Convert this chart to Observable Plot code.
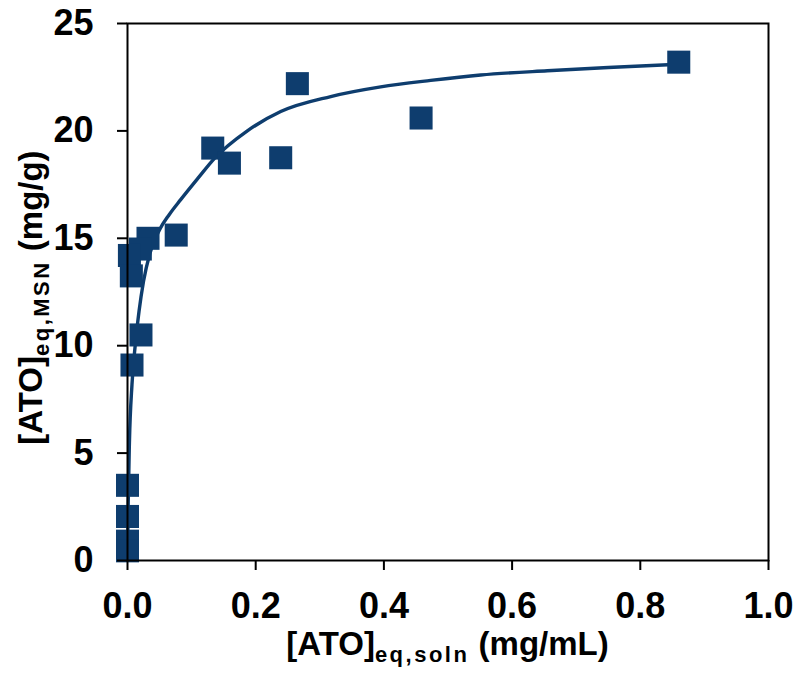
<!DOCTYPE html>
<html>
<head>
<meta charset="utf-8">
<script src="https://cdn.jsdelivr.net/npm/d3@7"></script>
<script src="https://cdn.jsdelivr.net/npm/@observablehq/plot@0.6"></script>
<style>
  html, body { margin: 0; padding: 0; background: #fff; }
</style>
</head>
<body>
<div id="chart"></div>
<script>
// Measured points
const pointX = [0.86, 0.265, 0.458, 0.133, 0.159, 0.239, 0.076, 0.032, 0.02, 0.003, 0.006, 0.021, 0.007, 0.0, 0.0, 0.0, 0.0];
const pointY = [23.2, 22.2, 20.6, 19.2, 18.5, 18.75, 15.15, 15.0, 14.5, 14.2, 13.25, 10.5, 9.1, 3.5, 2.05, 0.9, 0.45];

// Fitted curve
const curveX = [0, 0.001, 0.003, 0.007, 0.012, 0.018, 0.025, 0.035, 0.05, 0.065, 0.083, 0.11, 0.135, 0.187, 0.239, 0.317, 0.395, 0.473, 0.551, 0.655, 0.75, 0.86];
const curveY = [0, 2.5, 5.5, 8.2, 10.0, 11.6, 13.0, 14.3, 15.4, 16.1, 16.8, 17.8, 18.7, 20.0, 20.9, 21.6, 22.05, 22.35, 22.6, 22.8, 22.95, 23.1];

const xTicks = [0, 0.2, 0.4, 0.6, 0.8, 1.0];
const yTicks = [0, 5, 10, 15, 20, 25];

const points = pointX.map((x, i) => ({x, y: pointY[i]}));
const curve = curveX.map((x, i) => ({x, y: curveY[i]}));

const navy = "#0e3d6e";
const font = "'Liberation Sans', Arial, sans-serif";

const chart = Plot.plot({
  width: 800,
  height: 676,
  marginLeft: 127,
  marginRight: 32,
  marginTop: 23,
  marginBottom: 116,
  style: {fontFamily: font, fontSize: "36px", fontWeight: "bold", color: "#000", background: "#fff"},
  x: {domain: [0, 1]},
  y: {domain: [0, 25]},
  marks: [
    Plot.line(curve, {x: "x", y: "y", stroke: navy, strokeWidth: 3.4, curve: "monotone-x"}),
    Plot.dot(points, {x: "x", y: "y", symbol: "square", r: 13, fill: navy, stroke: "none"}),
    Plot.frame({stroke: "#000", strokeWidth: 2}),
    Plot.axisX({ticks: xTicks, tickFormat: d3.format(".1f"), tickSize: 10, tickPadding: 22, strokeWidth: 2, label: null, fontSize: 36, fontWeight: "bold"}),
    Plot.axisY({ticks: yTicks, tickFormat: d3.format("d"), tickSize: 10, tickPadding: 24, strokeWidth: 2, label: null, fontSize: 36, fontWeight: "bold"})
  ]
});

document.getElementById("chart").appendChild(chart);

const xs = chart.scale("x").range;
const ys = chart.scale("y").range;
const svg = d3.select(chart);

// X title
const xt = svg.append("text")
  .attr("x", (xs[0] + xs[1]) / 2)
  .attr("y", ys[0] + 95)
  .attr("text-anchor", "middle")
  .attr("font-family", font).attr("font-weight", "bold").attr("font-size", 33).attr("fill", "#000");
xt.append("tspan").text("[ATO]");
xt.append("tspan").attr("font-size", 22).attr("dy", 7).attr("letter-spacing", 2.5).text("eq,soln");
xt.append("tspan").attr("dy", -7).text(" (mg/mL)");

// Y title
const yt = svg.append("text")
  .attr("transform", `translate(42,${(ys[0] + ys[1]) / 2 + 6}) rotate(-90)`)
  .attr("text-anchor", "middle")
  .attr("font-family", font).attr("font-weight", "bold").attr("font-size", 33).attr("fill", "#000");
yt.append("tspan").text("[ATO]");
yt.append("tspan").attr("font-size", 22).attr("dy", 7).attr("letter-spacing", 2.5).text("eq,MSN");
yt.append("tspan").attr("dy", -7).text(" (mg/g)");
</script>
</body>
</html>
